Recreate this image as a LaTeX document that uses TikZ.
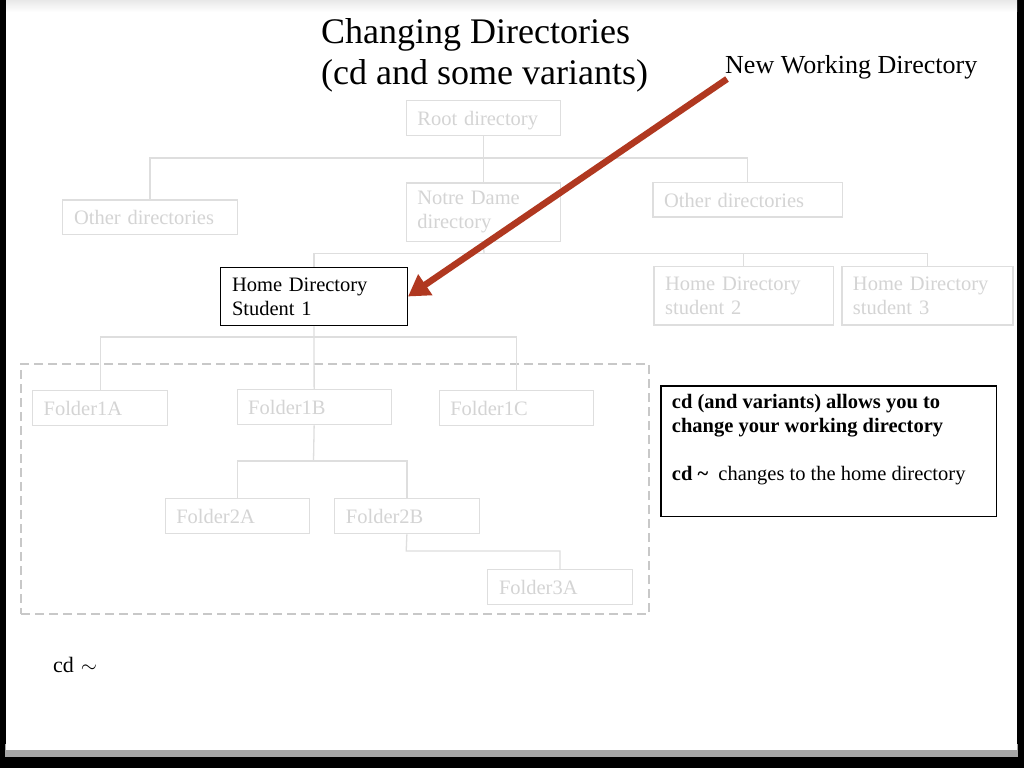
\documentclass[tikz,border=0pt]{standalone}
\usepackage{fontspec}
\setmainfont{Liberation Serif}
\usetikzlibrary{arrows.meta}
\definecolor{lt}{RGB}{212,212,212}
\definecolor{lb}{RGB}{222,222,222}
\definecolor{dashc}{RGB}{200,200,200}
\definecolor{arrc}{RGB}{176,56,32}
\tikzset{
  pbox/.style={draw=lb, line width=1.3pt, text=lt, anchor=north west, align=left,
    inner xsep=11pt, inner ysep=0pt, font=\fontsize{20.5}{24.3}\selectfont},
  hbox/.style={pbox, draw=black, text=black},
  sl/.style={text height=15pt, text depth=0pt},
  conn/.style={draw=lb, line width=1.3pt},
  dashbox/.style={draw=dashc, line width=2pt, dash pattern=on 9pt off 5pt, anchor=north west, inner sep=0pt},
  infobox/.style={draw=black, line width=1.3pt, anchor=north west, inner sep=0pt},
  infotxt/.style={anchor=base west, inner sep=0pt, font=\fontsize{20.5}{24.3}\selectfont},
  newarrow/.style={draw=arrc, line width=6.5pt, -{Triangle[length=21pt,width=24pt]}},
}
\begin{document}
\begin{tikzpicture}[x=1pt,y=-1pt]
\useasboundingbox (0,0) rectangle (1024,768);
% slide frame
\fill[black] (0,0) rectangle (1024,768);
\fill[gray!70] (5,744) rectangle (1018,757);
\fill[white] (6,0) rectangle (1017,750);
\shade[top color=gray!18, bottom color=white] (6,0) rectangle (1017,12);

% title
\node[anchor=base west, inner sep=0pt, font=\fontsize{36}{40}\selectfont] (t1) at (321,44) {Changing Directories};
\node[anchor=base west, inner sep=0pt, font=\fontsize{36}{40}\selectfont] (t2) at (321,84) {(cd and some variants)};
\node[anchor=base west, inner sep=0pt, font=\fontsize{26}{30}\selectfont] (nwd) at (725,74) {New Working Directory};

% tree boxes
\node[pbox, sl, minimum width=154pt, minimum height=35pt, text width=132pt] (root) at (405.7,100) {Root directory};
\node[pbox, sl, minimum width=174.7pt, minimum height=34.4pt, text width=152pt] (otherL) at (62,199.3) {Other directories};
\node[pbox, minimum width=154pt, minimum height=58.4pt, text width=132pt] (nd) at (405.7,182.3) {Notre Dame\\directory};
\node[pbox, sl, minimum width=189.4pt, minimum height=34.6pt, text width=167pt] (otherR) at (652.3,181.7) {Other directories};
\node[hbox, minimum width=186.7pt, minimum height=58.3pt, text width=164pt] (home1) at (220,266.7) {Home Directory\\Student 1};
\node[pbox, minimum width=179.4pt, minimum height=58.3pt, text width=157pt] (home2) at (653.3,266) {Home Directory\\student 2};
\node[pbox, minimum width=171pt, minimum height=58.3pt, text width=149pt] (home3) at (841.3,266) {Home Directory\\student 3};

\node[dashbox, minimum width=628pt, minimum height=250pt] (grp) at (20,363) {};

\node[pbox, sl, minimum width=135pt, minimum height=35pt, text width=113pt] (f1a) at (32,390) {Folder1A};
\node[pbox, sl, minimum width=154pt, minimum height=35pt, text width=132pt] (f1b) at (236.5,389) {Folder1B};
\node[pbox, sl, minimum width=154pt, minimum height=35pt, text width=132pt] (f1c) at (438.6,390) {Folder1C};
\node[pbox, sl, minimum width=144pt, minimum height=35pt, text width=122pt] (f2a) at (164.6,498) {Folder2A};
\node[pbox, sl, minimum width=144.5pt, minimum height=35pt, text width=122pt] (f2b) at (334,498) {Folder2B};
\node[pbox, sl, minimum width=144.7pt, minimum height=34.5pt, text width=122pt] (f3a) at (487,569) {Folder3A};

% connectors
\coordinate (j1) at (483,158);
\draw[conn] (root.south) -- (nd.north);
\draw[conn] (otherL.north) |- (j1) -| (otherR.north);
\coordinate (j2) at (484,253.3);
\draw[conn] (nd.south) -- (j2);
\draw[conn] (home1.north) |- (j2) -| (home3.north);
\draw[conn] (home2.north) -- (home2.north |- j2);
\coordinate (j3) at (313.4,337);
\draw[conn] (home1.south) -- (f1b.north);
\draw[conn] (f1a.north) |- (j3) -| (f1c.north);
\coordinate (j4) at (313.5,461);
\draw[conn] (f1b.south) -- (j4);
\draw[conn] (f2a.north) |- (j4) -| (f2b.north);
\coordinate (j5) at (406.2,551);
\draw[conn] (f2b.south) -- (j5) -| (f3a.north);

% arrow
\coordinate (as) at (727,79);
\draw[newarrow] (as) -- (home1.east);

% info box
\node[infobox, minimum width=335.7pt, minimum height=130.7pt] (info) at (660.3,385.3) {};
\node[infotxt] (i1) at (671.7,408.3) {\textbf{cd (and variants) allows you to}};
\node[infotxt] (i2) at (671.7,432.7) {\textbf{change your working directory}};
\node[infotxt] (i3) at (671.7,480.7) {\textbf{cd \textasciitilde}\ \ changes to the home directory};

% bottom command
\node[anchor=base west, inner sep=0pt, font=\fontsize{22}{26}\selectfont] (cmd) at (53,672.5) {cd\hspace{7pt}$\sim$};
\end{tikzpicture}
\end{document}
